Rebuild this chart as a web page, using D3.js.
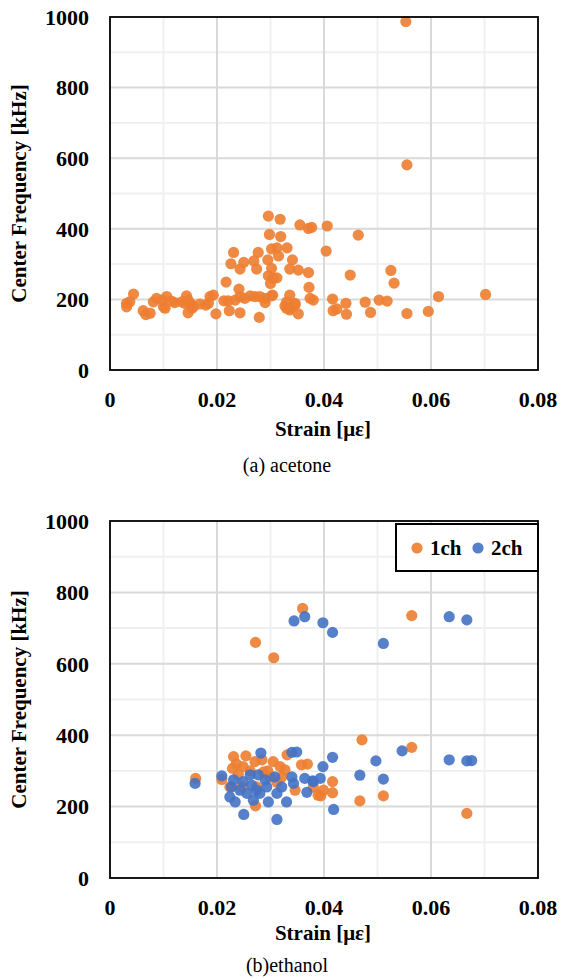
<!DOCTYPE html>
<html>
<head>
<meta charset="utf-8">
<script src="https://cdn.jsdelivr.net/npm/d3@7"></script>
<style>
  body { margin: 0; background: #fff; }
</style>
</head>
<body>
<div id="chart"></div>
<script>
// Data: [strain, center frequency kHz]
const acetone = [
  [0.0044,215],[0.0037,193],[0.0031,179],[0.0031,189],[0.0062,168],[0.0075,161],[0.0067,157],
  [0.0081,193],[0.0087,203],[0.0097,198],[0.0106,208],[0.0115,195],[0.0121,191],[0.0103,175],
  [0.0100,179],[0.0143,210],[0.0146,198],[0.0150,189],[0.0153,175],[0.0146,162],[0.0156,179],
  [0.0140,189],[0.0134,193],[0.0168,187],[0.0179,184],[0.0187,208],[0.0193,212],[0.0184,189],
  [0.0198,159],[0.0213,196],[0.0221,196],[0.0223,168],[0.0243,162],[0.0234,198],[0.0243,208],
  [0.0252,203],[0.0262,210],[0.0271,208],[0.0280,208],[0.0290,203],[0.0279,149],[0.0290,191],
  [0.0327,181],[0.0336,170],[0.0346,189],[0.0352,159],[0.0302,210],[0.0330,193],[0.0346,184],
  [0.0336,175],[0.0330,175],[0.0372,234],[0.0374,203],[0.0380,198],[0.0336,212],[0.0304,212],
  [0.0416,201],[0.0441,189],[0.0417,168],[0.0424,173],[0.0442,158],[0.0477,192],[0.0487,163],
  [0.0503,198],[0.0518,195],[0.0555,160],[0.0595,166],[0.0614,208],[0.0702,214],[0.0449,269],
  [0.0525,282],[0.0531,246],[0.0404,337],[0.0464,382],[0.0406,408],[0.0355,411],[0.0371,401],
  [0.0377,404],[0.0296,436],[0.0318,427],[0.0298,384],[0.0319,378],[0.0302,343],[0.0312,346],
  [0.0331,346],[0.0231,333],[0.0277,333],[0.0315,323],[0.0341,312],[0.0226,301],[0.0250,305],
  [0.0269,309],[0.0295,312],[0.0243,286],[0.0274,286],[0.0302,288],[0.0336,286],[0.0352,283],
  [0.0371,276],[0.0296,267],[0.0305,260],[0.0312,261],[0.0217,249],[0.0300,245],[0.0241,229],
  [0.0555,581],[0.0553,987]
];

const ethanol1ch = [
  [0.0160,279],[0.0209,276],[0.0231,340],[0.0254,342],[0.0271,326],[0.0229,307],[0.0249,312],
  [0.0305,326],[0.0318,312],[0.0327,303],[0.0331,345],[0.0358,317],[0.0369,319],[0.0224,255],
  [0.0272,202],[0.0287,297],[0.0299,283],[0.0321,283],[0.0346,246],[0.0389,232],[0.0246,255],
  [0.0274,255],[0.0272,660],[0.0306,617],[0.0360,755],[0.0564,735],[0.0471,387],[0.0564,366],
  [0.0380,255],[0.0399,246],[0.0394,230],[0.0416,270],[0.0416,239],[0.0467,216],[0.0511,230],
  [0.0667,181],[0.0284,331],[0.0262,300],[0.0240,290],[0.0236,320],[0.0295,300],[0.0312,268]
];

const ethanol2ch = [
  [0.0282,350],[0.0340,352],[0.0349,353],[0.0159,265],[0.0209,286],[0.0231,275],[0.0227,255],
  [0.0249,270],[0.0262,289],[0.0277,289],[0.0290,275],[0.0308,283],[0.0321,255],[0.0340,283],
  [0.0343,265],[0.0364,279],[0.0380,270],[0.0398,312],[0.0393,279],[0.0224,227],[0.0234,213],
  [0.0256,237],[0.0268,218],[0.0296,213],[0.0312,237],[0.0330,213],[0.0368,240],[0.0250,178],
  [0.0312,164],[0.0243,246],[0.0274,246],[0.0293,255],[0.0265,260],[0.0280,237],[0.0344,720],
  [0.0364,732],[0.0398,715],[0.0416,688],[0.0511,657],[0.0634,732],[0.0667,723],[0.0546,356],
  [0.0634,331],[0.0667,328],[0.0676,329],[0.0497,328],[0.0416,338],[0.0379,272],[0.0467,288],
  [0.0511,277],[0.0418,192]
];

const xTicks = [0, 0.02, 0.04, 0.06, 0.08];
const xTickLabels = ["0", "0.02", "0.04", "0.06", "0.08"];
const yTicks = [0, 200, 400, 600, 800, 1000];
const xMinor = [0.01, 0.03, 0.05, 0.07];
const yMinor = [100, 300, 500, 700, 900];

const ORANGE = "#ED7D31";
const BLUE = "#4472C4";
const SERIF = "'Liberation Serif', 'Times New Roman', serif";

const width = 561, height = 979;
const svg = d3.select("#chart").append("svg")
  .attr("width", width).attr("height", height)
  .attr("font-family", SERIF);

function drawPanel(opts) {
  const { top, bottom, left, right, series, caption, legend, titleGap, captionGap } = opts;
  const g = svg.append("g");

  const x = d3.scaleLinear().domain([0, 0.08]).range([left, right]);
  const y = d3.scaleLinear().domain([0, 1000]).range([bottom, top]);

  // minor grid
  g.selectAll("line.xminor").data(xMinor).enter().append("line")
    .attr("x1", d => x(d)).attr("x2", d => x(d))
    .attr("y1", top).attr("y2", bottom)
    .attr("stroke", "#f0f0f0").attr("stroke-width", 2);
  g.selectAll("line.yminor").data(yMinor).enter().append("line")
    .attr("x1", left).attr("x2", right)
    .attr("y1", d => y(d)).attr("y2", d => y(d))
    .attr("stroke", "#f0f0f0").attr("stroke-width", 2);
  // major grid
  g.selectAll("line.xmajor").data(xTicks.slice(1, -1)).enter().append("line")
    .attr("x1", d => x(d)).attr("x2", d => x(d))
    .attr("y1", top).attr("y2", bottom)
    .attr("stroke", "#d9d9d9").attr("stroke-width", 2);
  g.selectAll("line.ymajor").data(yTicks.slice(1, -1)).enter().append("line")
    .attr("x1", left).attr("x2", right)
    .attr("y1", d => y(d)).attr("y2", d => y(d))
    .attr("stroke", "#d9d9d9").attr("stroke-width", 2);

  // points
  series.forEach(s => {
    g.append("g").selectAll("circle").data(s.data).enter().append("circle")
      .attr("cx", d => x(d[0])).attr("cy", d => y(d[1]))
      .attr("r", 5.6)
      .attr("fill", s.color)
      .attr("fill-opacity", 0.9);
  });

  // plot border
  g.append("rect")
    .attr("x", left).attr("y", top)
    .attr("width", right - left).attr("height", bottom - top)
    .attr("fill", "none").attr("stroke", "#000").attr("stroke-width", 1.8);

  // y tick labels
  g.selectAll("text.ytick").data(yTicks).enter().append("text")
    .attr("x", left - 21).attr("y", d => y(d))
    .attr("dy", "0.35em")
    .attr("text-anchor", "end")
    .attr("font-size", 22).attr("font-weight", "bold")
    .text(d => d);

  // x tick labels
  g.selectAll("text.xtick").data(xTicks).enter().append("text")
    .attr("x", d => x(d)).attr("y", bottom + 37)
    .attr("text-anchor", "middle")
    .attr("font-size", 22).attr("font-weight", "bold")
    .text((d, i) => xTickLabels[i]);

  // axis titles
  g.append("text")
    .attr("transform", `translate(26,${(top + bottom) / 2}) rotate(-90)`)
    .attr("text-anchor", "middle")
    .attr("font-size", 21).attr("font-weight", "bold")
    .text("Center Frequency [kHz]");
  g.append("text")
    .attr("x", 323).attr("y", bottom + titleGap)
    .attr("text-anchor", "middle")
    .attr("font-size", 21).attr("font-weight", "bold")
    .text("Strain [με]");

  g.append("text")
    .attr("x", 287).attr("y", bottom + captionGap)
    .attr("text-anchor", "middle")
    .attr("font-size", 20)
    .text(caption);

  if (legend) {
    const lg = g.append("g");
    lg.append("rect")
      .attr("x", 396).attr("y", top + 3)
      .attr("width", right - 396).attr("height", 47)
      .attr("fill", "#fff").attr("stroke", "#000").attr("stroke-width", 2);
    legend.forEach((l, i) => {
      const lx = 417 + i * 61;
      const ly = top + 27;
      lg.append("circle").attr("cx", lx).attr("cy", ly).attr("r", 5.6)
        .attr("fill", l.color).attr("fill-opacity", 0.9);
      lg.append("text").attr("x", lx + 13).attr("y", ly).attr("dy", "0.35em")
        .attr("font-size", 21).attr("font-weight", "bold")
        .text(l.label);
    });
  }
}

drawPanel({
  top: 17, bottom: 370, left: 110, right: 538,
  series: [{ data: acetone, color: ORANGE }],
  caption: "(a) acetone", titleGap: 66, captionGap: 102
});

drawPanel({
  top: 521, bottom: 878, left: 110, right: 538,
  series: [{ data: ethanol1ch, color: ORANGE }, { data: ethanol2ch, color: BLUE }],
  caption: "(b)ethanol", titleGap: 62, captionGap: 94,
  legend: [{ label: "1ch", color: ORANGE }, { label: "2ch", color: BLUE }]
});
</script>
</body>
</html>
